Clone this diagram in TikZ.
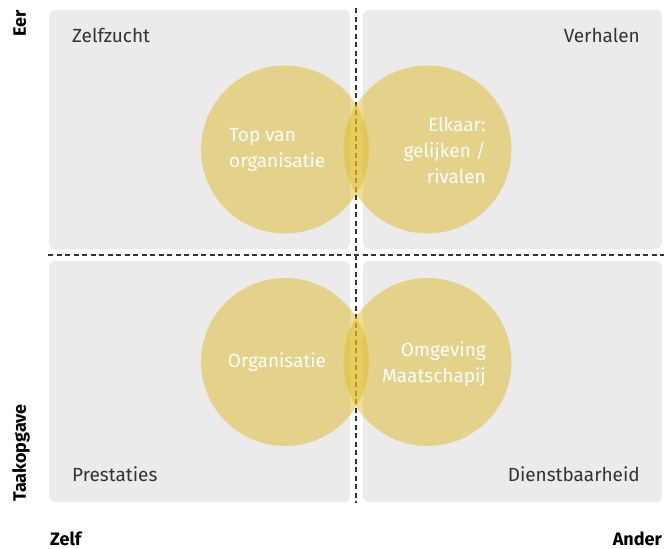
\documentclass[tikz,border=0pt]{standalone}
\usepackage{fontspec}
\setmainfont{Fira Sans}
\definecolor{panelgray}{RGB}{235,235,235}
\definecolor{gold}{RGB}{222,186,39}
\definecolor{ink}{RGB}{51,51,51}
\begin{document}
\begin{tikzpicture}[x=1pt, y=-1pt,
  panel/.style={fill=panelgray, rounded corners=6pt},
  blob/.style={circle, fill=gold, fill opacity=0.49, minimum size=168pt, inner sep=0pt},
  blobtext/.style={text=white, inner sep=0pt, font=\fontsize{19}{26}\selectfont},
  corner/.style={text=ink, inner sep=0pt, font=\fontsize{19}{22}\selectfont},
  axisname/.style={text=black, inner sep=0pt, font=\fontsize{18}{22}\selectfont\bfseries},
  divider/.style={draw=ink, line width=1.2pt, dash pattern=on 5pt off 3.5pt}]

\useasboundingbox (0,0) rectangle (665,549);

\fill[panel] (49,10) rectangle (350,249);
\fill[panel] (363,10) rectangle (662,249);
\fill[panel] (49,261) rectangle (350,502);
\fill[panel] (363,261) rectangle (662,502);

\draw[divider] (356,8) -- (356,503);
\draw[divider] (48,255) -- (664,255);

\node(1) [blob] at (285, 149.5) {};
\node(2) [blob] at (427.5, 149.5) {};
\node(3) [blob] at (285, 362) {};
\node(4) [blob] at (427.5, 362) {};

\node(5) [blobtext, align=left, anchor=west] at (229, 150) {Top van\\organisatie};
\node(6) [blobtext, align=right, anchor=east] at (486, 150) {Elkaar:\\gelijken /\\rivalen};
\node(7) [blobtext] at (277, 362) {Organisatie};
\node(8) [blobtext, align=right, anchor=east] at (486, 364) {Omgeving\\Maatschapij};

\node(9) [corner, anchor=base west] at (72, 42.7) {Zelfzucht};
\node(10) [corner, anchor=base east] at (640, 42.7) {Verhalen};
\node(11) [corner, anchor=base west] at (72, 481) {Prestaties};
\node(12) [corner, anchor=base east] at (640, 481) {Dienstbaarheid};

\node(13) [axisname, rotate=90, anchor=base east] at (26, 10) {Eer};
\node(14) [axisname, rotate=90, anchor=base west] at (26, 502) {Taakopgave};
\node(15) [axisname, anchor=base west] at (50, 545) {Zelf};
\node(16) [axisname, anchor=base east] at (662, 545) {Ander};

\end{tikzpicture}
\end{document}
